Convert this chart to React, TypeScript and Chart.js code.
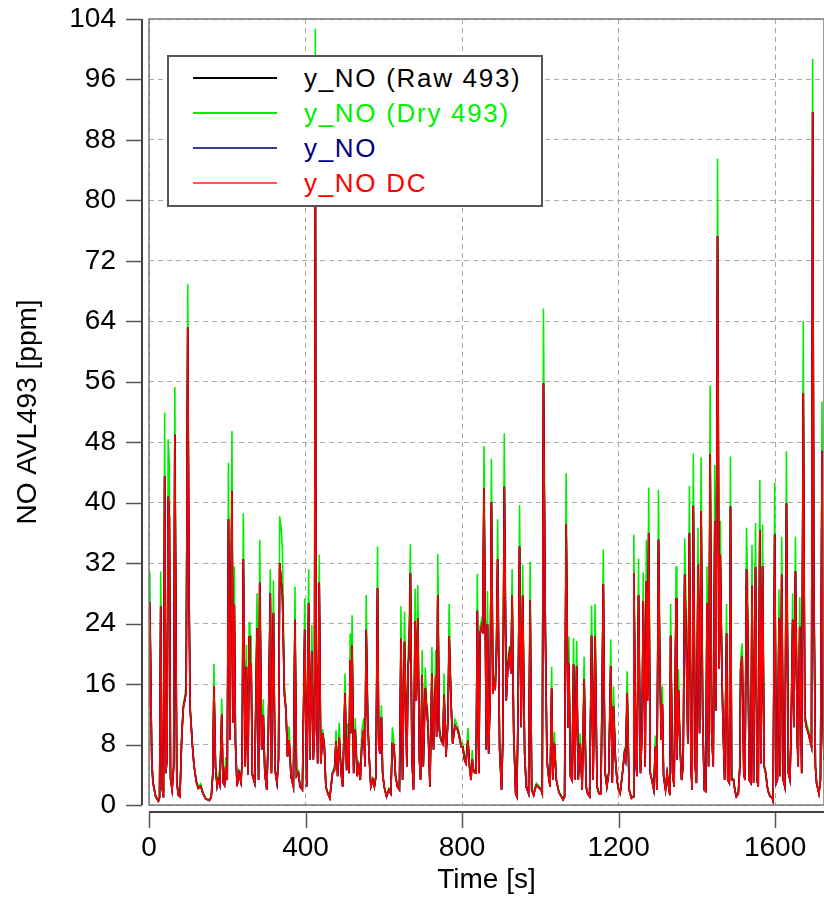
import React, { useEffect, useRef } from 'react';
import { Chart, registerables } from 'chart.js';

Chart.register(...registerables);

// ---- data (time in s, NO in ppm) ----
const timeS = [
  0, 2, 7, 10, 17, 24, 27, 30, 33, 37,
  40, 43, 46, 49, 52, 55, 59, 63, 66, 71,
  75, 79, 84, 88, 92, 95, 99, 102, 105, 111,
  115, 121, 126, 132, 138, 145, 154, 159, 163, 166,
  170, 174, 177, 181, 186, 189, 193, 196, 200, 203,
  207, 212, 215, 218, 221, 225, 230, 235, 238, 241,
  246, 249, 253, 256, 258, 261, 264, 270, 276, 280,
  283, 288, 292, 296, 301, 305, 310, 313, 318, 322,
  327, 331, 334, 338, 341, 346, 350, 354, 358, 363,
  369, 373, 377, 382, 386, 392, 398, 403, 408, 411,
  416, 420, 423, 425, 427, 431, 435, 439, 444, 448,
  452, 457, 462, 469, 474, 478, 482, 486, 491, 495,
  501, 505, 508, 511, 514, 516, 519, 523, 527, 532,
  536, 540, 544, 549, 552, 555, 559, 563, 567, 572,
  576, 580, 584, 587, 590, 594, 597, 601, 607, 613,
  618, 622, 626, 630, 635, 640, 644, 648, 653, 659,
  662, 665, 668, 672, 676, 680, 683, 687, 691, 694,
  698, 701, 706, 710, 713, 718, 723, 727, 733, 735,
  738, 742, 746, 751, 754, 759, 764, 767, 772, 776,
  782, 789, 793, 798, 802, 806, 810, 815, 819, 823,
  826, 829, 833, 836, 839, 843, 846, 850, 853, 856,
  860, 862, 865, 868, 872, 875, 879, 882, 885, 888,
  891, 896, 901, 904, 908, 913, 917, 921, 925, 928,
  932, 937, 940, 943, 947, 951, 955, 960, 964, 970,
  974, 978, 983, 986, 990, 995, 998, 1002, 1005, 1008,
  1013, 1017, 1020, 1025, 1029, 1032, 1036, 1041, 1046, 1049,
  1054, 1058, 1062, 1066, 1071, 1073, 1077, 1081, 1085, 1088,
  1093, 1097, 1102, 1107, 1112, 1117, 1121, 1126, 1131, 1135,
  1140, 1145, 1150, 1155, 1161, 1165, 1170, 1175, 1180, 1184,
  1187, 1192, 1196, 1200, 1204, 1210, 1215, 1218, 1222, 1227,
  1233, 1237, 1239, 1244, 1247, 1251, 1256, 1260, 1263, 1268,
  1271, 1274, 1277, 1281, 1285, 1290, 1294, 1298, 1302, 1305,
  1309, 1312, 1315, 1320, 1324, 1328, 1331, 1333, 1338, 1342,
  1347, 1349, 1353, 1357, 1361, 1365, 1369, 1373, 1377, 1381,
  1385, 1388, 1391, 1396, 1399, 1403, 1407, 1411, 1415, 1419,
  1423, 1426, 1430, 1434, 1438, 1442, 1446, 1449, 1453, 1457,
  1460, 1464, 1467, 1471, 1476, 1479, 1483, 1486, 1489, 1494,
  1497, 1501, 1506, 1510, 1512, 1516, 1520, 1523, 1527, 1530,
  1534, 1538, 1541, 1545, 1550, 1554, 1557, 1561, 1564, 1568,
  1572, 1576, 1580, 1584, 1588, 1593, 1595, 1599, 1603, 1606,
  1610, 1613, 1617, 1621, 1625, 1629, 1634, 1638, 1641, 1645,
  1648, 1652, 1657, 1659, 1663, 1668, 1672, 1676, 1680, 1685,
  1689, 1693, 1696, 1699, 1703, 1706, 1712, 1716, 1720, 1723,
  1725,
];

// y_NO DC (red)
const noDcPpm = [
  13, 26.8, 6, 3, 1.1, 0.5, 1, 26.3, 2.5, 1,
  43.5, 4.2, 6, 40.8, 38, 3.5, 2, 5, 49, 3,
  1.3, 1.1, 9.5, 13, 14, 15, 63.2, 30, 12.8, 7.8,
  5.2, 3, 2.2, 2.5, 1.5, 0.8, 0.6, 1, 4, 15.7,
  5, 2.5, 3.3, 2.6, 12, 3, 2.6, 5.1, 3.3, 37.8,
  8.6, 41.5, 10.9, 26.5, 8.2, 2.5, 4.2, 3, 5.6, 32.5,
  5.1, 18.3, 4, 22.3, 16.8, 18.8, 4, 2.9, 23.4, 3.3,
  29.4, 7.3, 11.9, 4.2, 2, 9.5, 28, 4.2, 25.4, 4.6,
  2.9, 6, 32, 29.5, 27.6, 14.7, 12.5, 6.4, 8.6, 3.8,
  2.4, 24.5, 3.8, 4.2, 2.4, 2, 23.2, 2.4, 26.7, 6,
  20.3, 6, 10, 90, 20, 5.5, 29.4, 5.5, 9.5, 7.8,
  2.4, 1.5, 0.9, 4.2, 4.6, 8.4, 3.8, 9, 4.2, 2.4,
  14.8, 4.6, 9, 4.2, 19.2, 9.5, 21.1, 4.2, 10, 3.8,
  5.1, 3.3, 8.1, 10, 5.1, 23.2, 11, 6, 2.4, 3.3,
  2.4, 3.8, 28.7, 8.1, 6.8, 11.6, 4.2, 2.4, 1.1, 2,
  1.5, 8.1, 7.9, 3.8, 2.4, 2, 22, 3.3, 21.6, 5.1,
  18.3, 20, 30.7, 6, 2, 24.3, 13.8, 24.7, 6, 3.3,
  17.2, 5.1, 15.4, 12.5, 10.5, 2.4, 17.4, 7.3, 17.2, 9,
  27.8, 9.9, 8.6, 8.1, 14.6, 6.4, 11.2, 22.3, 13.4, 8.1,
  10.5, 9.9, 9, 7.7, 7.7, 6, 5.5, 8.6, 5.1, 3.3,
  6, 4.6, 4.2, 4.2, 25.7, 4.2, 22.7, 23.6, 22.7, 41.9,
  20.5, 7.3, 23.9, 6.8, 14.7, 40.1, 14.7, 16, 15.6, 20.5,
  32.5, 7.3, 2, 8.1, 42.1, 13.8, 18.3, 20, 17.4, 27.8,
  9.5, 1.5, 1.1, 11.6, 34.2, 10.3, 27.7, 6.8, 2.4, 1.5,
  27.1, 2, 1.3, 2, 2.6, 2.4, 2.2, 2, 1.5, 55.8,
  22.7, 6, 4.2, 2.4, 15.4, 3.3, 8.1, 3.3, 2, 1.5,
  1.1, 0.7, 1.1, 37.1, 10.3, 18.8, 3.8, 3.3, 18.6, 3.3,
  18.4, 3.3, 8.1, 2, 16.6, 2.4, 1.5, 1.1, 22.4, 3.3,
  22.3, 2.4, 1.5, 1.5, 29.2, 4.6, 2.4, 4.2, 18.4, 2.9,
  13.1, 6, 3.3, 2, 1.5, 4.2, 6.8, 6, 14.8, 2,
  0.9, 1.1, 30.7, 6, 3.8, 27.8, 4.2, 9.5, 27, 5.1,
  29.6, 13.8, 36, 4.2, 3.3, 2, 7.7, 2, 35.1, 20.1,
  8.6, 13.3, 3.8, 2, 4.2, 2.4, 1.3, 22.4, 4.2, 2.4,
  27.4, 6, 15.2, 7.7, 3.3, 5.1, 30.5, 21, 8.1, 36,
  5.1, 2, 39.6, 5.1, 2.9, 31.8, 9.5, 38.9, 11.6, 2,
  1.8, 26.7, 5.1, 46.4, 9.5, 5.1, 37.5, 12.5, 75.3, 18,
  33.1, 17.7, 10.3, 3.3, 22.7, 3.3, 2.9, 39.5, 3.3, 3.3,
  2, 1.1, 1.5, 5.1, 18, 19.6, 4.2, 3.3, 31.2, 23.8,
  3.3, 2.9, 29, 2.9, 31.5, 3.3, 2.4, 36.4, 5.5, 31.6,
  5.1, 4.2, 2.4, 1.5, 1.1, 0.9, 0.5, 35.8, 2.9, 3.3,
  24.7, 3.8, 30.5, 3.3, 2.4, 39.9, 4.2, 3.3, 9.9, 24.5,
  10.3, 30.9, 8.1, 5.1, 23.6, 4.2, 54.5, 11.6, 10.3, 9.5,
  8.6, 7.7, 91.7, 30, 5.1, 2.9, 1.5, 3.3, 46.8, 10,
  6,
];

// y_NO (Dry 493) (green)
const noDryPpm = [
  14, 30.9, 6.5, 3.3, 1.3, 0.6, 1.1, 30.9, 2.7, 1.1,
  51.9, 4.6, 6.5, 48.4, 45, 3.8, 2.2, 5.5, 55.3, 3.3,
  1.4, 1.2, 9.9, 13.5, 14.5, 16, 68.9, 33, 13.4, 8.2,
  5.5, 3.2, 2.4, 2.8, 1.7, 0.9, 0.7, 1.1, 4.4, 18.7,
  5.3, 2.7, 4, 2.8, 14.1, 3.2, 2.8, 6.3, 3.5, 45.3,
  9, 49.5, 11.5, 31.6, 8.6, 2.7, 4.5, 3.2, 6, 38.6,
  5.4, 21.2, 4.3, 24.2, 17.5, 22.5, 4.3, 3.1, 28, 3.5,
  35.1, 7.7, 14, 4.5, 2.2, 10, 31.2, 4.5, 29.7, 4.9,
  3.1, 6.4, 38.2, 36.5, 33.5, 15.5, 13.2, 6.8, 10.4, 4,
  2.6, 28.9, 4, 4.5, 2.6, 2.2, 27.3, 2.6, 31.2, 6.3,
  23.8, 6.3, 11, 102.7, 22, 5.8, 33.1, 5.8, 10, 8.2,
  2.6, 1.7, 1, 4.5, 4.9, 9.9, 4, 10.9, 4.5, 2.6,
  17.4, 4.9, 10.8, 4.5, 22.7, 10, 25.1, 4.5, 11.5, 4,
  5.4, 3.5, 9.9, 11.5, 5.4, 27.8, 12.1, 6.4, 2.6, 3.5,
  2.6, 4, 34.2, 8.5, 7.2, 13.2, 4.5, 2.6, 1.2, 2.2,
  1.7, 10.3, 8.3, 4, 2.6, 2.2, 26.3, 3.5, 25.6, 5.4,
  19.5, 24, 34.5, 6.4, 2.2, 28.6, 14.5, 29.1, 6.4, 3.5,
  20.5, 5.4, 18.2, 13.2, 12.1, 2.6, 20.9, 7.7, 20.5, 9.5,
  33.2, 10.4, 9, 8.5, 17.4, 6.8, 11.8, 26.6, 14, 8.6,
  11.3, 10.4, 9.5, 8.1, 8.1, 6.4, 5.8, 10.2, 5.4, 3.5,
  7.3, 4.9, 4.5, 4.5, 30.6, 4.5, 23.5, 24.5, 23.5, 47.5,
  21.3, 7.7, 28.3, 7.2, 15.5, 45.8, 15.5, 16.8, 16.5, 21.5,
  37.8, 7.7, 2.2, 8.6, 49.2, 14.5, 19.2, 21, 18.2, 31.2,
  10, 1.7, 1.2, 12.2, 39.7, 10.9, 31.8, 7.2, 2.6, 1.7,
  32.2, 2.2, 1.4, 2.3, 2.9, 2.6, 2.4, 2.2, 1.7, 65.7,
  23.5, 6.4, 4.5, 2.6, 18.3, 3.5, 9.7, 3.5, 2.2, 1.7,
  1.2, 0.8, 1.2, 43.9, 10.9, 22.3, 4, 3.5, 22.1, 3.5,
  21.7, 3.5, 9.5, 2.2, 19.6, 2.6, 1.7, 1.2, 26.4, 3.5,
  26.6, 2.6, 1.7, 1.7, 33.8, 4.9, 2.6, 4.5, 21.9, 3.1,
  15.7, 6.4, 3.5, 2.2, 1.7, 4.5, 7.2, 6.4, 17.7, 2.2,
  1, 1.2, 35.8, 6.4, 4, 32.6, 4.5, 10, 30.8, 5.4,
  35.1, 14.5, 42, 4.5, 3.5, 2.2, 9.2, 2.2, 41.7, 23.8,
  9, 15.7, 4, 2.2, 4.5, 2.6, 1.4, 26.6, 4.5, 2.6,
  31.6, 6.4, 18, 8.1, 3.5, 5.4, 35.3, 25.3, 8.5, 42.2,
  5.4, 2.2, 46.5, 5.4, 3.1, 36.7, 10, 46, 12.2, 2.2,
  2, 31.6, 5.4, 55.5, 10, 5.4, 45, 13.2, 85.5, 19,
  37.6, 18.5, 10.9, 3.5, 26.6, 3.5, 3.1, 46.1, 3.5, 3.5,
  2.2, 1.2, 1.7, 5.4, 19.2, 21.4, 4.5, 3.5, 36.7, 28.3,
  3.5, 3.1, 34.4, 3.1, 37.3, 3.5, 2.6, 43, 5.8, 37.1,
  5.4, 4.5, 2.6, 1.7, 1.2, 1, 0.6, 42.6, 3.1, 3.5,
  28.5, 4, 35.5, 3.5, 2.6, 46.8, 4.5, 3.5, 10.4, 28,
  10.9, 35.5, 8.5, 5.4, 27.5, 4.5, 64, 12.2, 10.9, 10,
  9, 8.1, 98.7, 32, 5.4, 3.1, 1.7, 3.5, 53.4, 11,
  6.5,
];

// y_NO (Raw 493) and y_NO lie under y_NO DC at this scale
const noRawPpm = noDcPpm;
const noPpm = noDcPpm;

const xTickValues = [0, 400, 800, 1200, 1600];
const yTickValues = [0, 8, 16, 24, 32, 40, 48, 56, 64, 72, 80, 88, 96, 104];
const X_MAX = 1725;
const Y_MAX = 104;

const seriesLabels = ['y_NO (Raw 493)', 'y_NO (Dry 493)', 'y_NO', 'y_NO DC'];
const seriesColors = ['#000000', '#00ee00', '#000080', '#ff0000'];
const legendLineColors = ['#000000', '#00ee00', '#3a3a90', '#ff5555'];
const legendTextColors = ['#000000', '#00f000', '#000080', '#ff0000'];

const FONT = "'Liberation Sans', Arial, sans-serif";

const toPoints = (ys: number[]) => timeS.map((t, i) => ({ x: t, y: ys[i] }));

const axesPlugin = {
  id: 'offsetAxes',
  afterDraw(chart: any) {
    const { ctx, chartArea: a, scales } = chart;
    const xs = scales.x;
    const ys = scales.y;
    ctx.save();
    // plot frame
    ctx.strokeStyle = '#7a7a7a';
    ctx.lineWidth = 1.5;
    ctx.strokeRect(a.left, a.top, a.right - a.left, a.bottom - a.top);
    // y axis (offset)
    const yx = a.left - 7;
    ctx.strokeStyle = '#000';
    ctx.lineWidth = 1.5;
    ctx.beginPath();
    ctx.moveTo(yx, a.top);
    ctx.lineTo(yx, a.bottom);
    ctx.stroke();
    ctx.strokeStyle = '#555';
    ctx.lineWidth = 1.5;
    ys.ticks.forEach((t: any) => {
      const py = Math.round(ys.getPixelForValue(t.value)) + 0.5;
      ctx.beginPath();
      ctx.moveTo(yx - 16, py);
      ctx.lineTo(yx, py);
      ctx.stroke();
    });
    // x axis (offset)
    const xy = a.bottom + 7;
    ctx.strokeStyle = '#000';
    ctx.beginPath();
    ctx.moveTo(a.left, xy);
    ctx.lineTo(a.right, xy);
    ctx.stroke();
    ctx.strokeStyle = '#555';
    xs.ticks.forEach((t: any) => {
      const px = Math.round(xs.getPixelForValue(t.value)) + 0.5;
      ctx.beginPath();
      ctx.moveTo(px, xy);
      ctx.lineTo(px, xy + 16);
      ctx.stroke();
    });
    ctx.restore();
  },
};

export default function App() {
  const canvasRef = useRef<HTMLCanvasElement | null>(null);

  useEffect(() => {
    document.body.style.margin = '0';
    const canvas = canvasRef.current;
    if (!canvas) return;
    const datasets = [
      { label: seriesLabels[1], data: toPoints(noDryPpm), borderColor: seriesColors[1], order: 3 },
      { label: seriesLabels[0], data: toPoints(noRawPpm), borderColor: seriesColors[0], order: 2 },
      { label: seriesLabels[2], data: toPoints(noPpm), borderColor: seriesColors[2], order: 1 },
      { label: seriesLabels[3], data: toPoints(noDcPpm), borderColor: seriesColors[3], order: 0 },
    ].map((d) => ({
      ...d,
      borderWidth: 1.6,
      pointRadius: 0,
      tension: 0,
      fill: false,
    }));

    const chart = new Chart(canvas, {
      type: 'line',
      data: { datasets },
      options: {
        responsive: false,
        animation: false,
        devicePixelRatio: 1,
        layout: { padding: { top: 19, right: 0, bottom: 0, left: 0 } },
        plugins: { legend: { display: false }, tooltip: { enabled: false } },
        scales: {
          x: {
            type: 'linear',
            min: 0,
            max: X_MAX,
            afterBuildTicks: (s: any) => {
              s.ticks = xTickValues.map((v) => ({ value: v }));
            },
            afterFit: (s: any) => {
              s.height = 93;
              s.paddingLeft = 0;
              s.paddingRight = 0;
            },
            grid: { color: '#a8a8a8', lineWidth: 1, drawTicks: false },
            border: { display: false, dash: [5, 4] },
            ticks: {
              color: '#000',
              font: { family: FONT, size: 28 },
              padding: 26,
              maxRotation: 0,
              autoSkip: false,
              callback: (v: any) => String(v),
            },
            title: {
              display: true,
              text: 'Time [s]',
              color: '#000',
              font: { family: FONT, size: 28 },
              padding: { top: 0, bottom: 1 },
            },
          },
          y: {
            type: 'linear',
            min: 0,
            max: Y_MAX,
            afterBuildTicks: (s: any) => {
              s.ticks = yTickValues.map((v) => ({ value: v }));
            },
            afterFit: (s: any) => {
              s.width = 149;
              s.paddingTop = 0;
              s.paddingBottom = 0;
            },
            grid: { color: '#a8a8a8', lineWidth: 1, drawTicks: false },
            border: { display: false, dash: [5, 4] },
            ticks: {
              color: '#000',
              font: { family: FONT, size: 28 },
              padding: 33,
              autoSkip: false,
              callback: (v: any) => String(v),
            },
            title: {
              display: true,
              text: 'NO AVL493 [ppm]',
              color: '#000',
              font: { family: FONT, size: 28 },
              padding: { top: 11, bottom: 0 },
            },
          },
        },
      },
      plugins: [axesPlugin],
    } as any);
    return () => chart.destroy();
  }, []);

  const rowCenters = [78, 113, 148, 183];

  return (
    <div style={{ position: 'relative', width: 824, height: 898, overflow: 'hidden', background: '#fff' }}>
      <canvas ref={canvasRef} width={824} height={898} style={{ display: 'block' }} />
      <div
        style={{
          position: 'absolute',
          left: 167,
          top: 55,
          width: 376,
          height: 152,
          boxSizing: 'border-box',
          border: '2px solid #555',
          background: '#fff',
        }}
      />
      {seriesLabels.map((lab, i) => (
        <React.Fragment key={lab}>
          <div
            style={{
              position: 'absolute',
              left: 193,
              top: rowCenters[i] - 1,
              width: 84,
              height: 2,
              backgroundColor: legendLineColors[i],
            }}
          />
          <div
            style={{
              position: 'absolute',
              left: 304,
              top: rowCenters[i] - 16,
              height: 32,
              lineHeight: '32px',
              fontFamily: FONT,
              fontSize: 26,
              letterSpacing: '1.7px',
              color: legendTextColors[i],
              whiteSpace: 'nowrap',
            }}
          >
            {lab}
          </div>
        </React.Fragment>
      ))}
    </div>
  );
}
